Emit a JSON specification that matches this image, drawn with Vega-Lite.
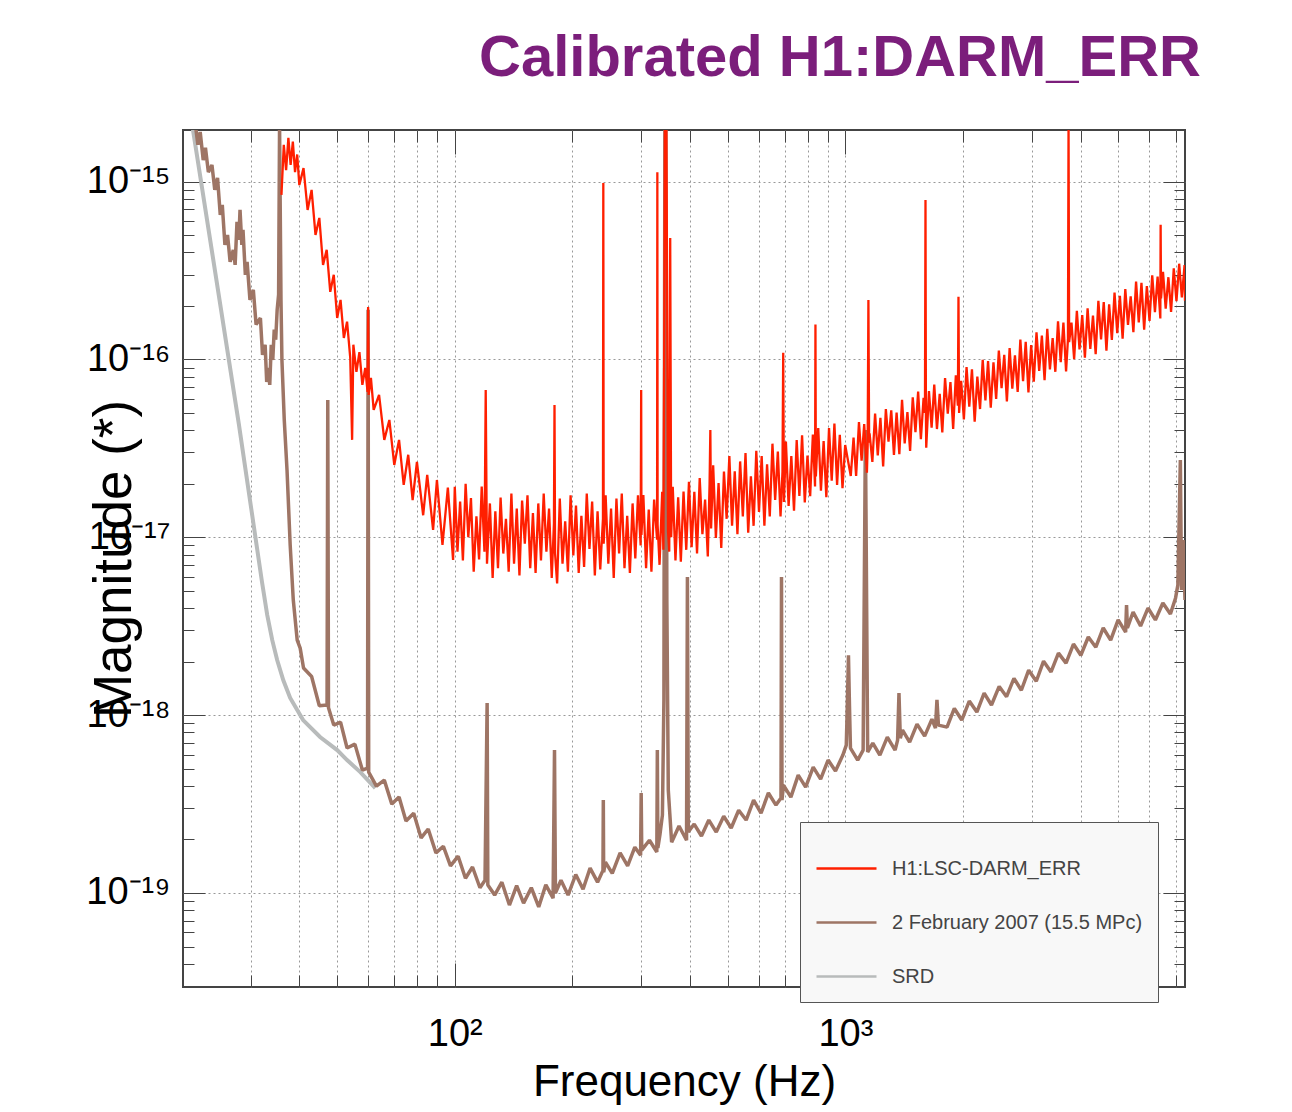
{
"$schema": "https://vega.github.io/schema/vega-lite/v6.json",
"width": 1002, "height": 857,
"autosize": {"type": "none"},
"padding": {"left": 183, "top": 130, "right": 107, "bottom": 125},
"background": "white",
"title": {"text": "Calibrated H1:DARM_ERR", "font": "Liberation Sans", "fontSize": 58, "fontWeight": "bold", "color": "#7b1e7b", "anchor": "middle", "frame": "group", "dx": 156, "dy": 57, "offset": 53, "baseline": "alphabetic"},
"datasets": {
"srd": [{"f":20,"m":4.96e-15},{"f":24,"m":3.82e-16},{"f":28,"m":4.34e-17},{"f":32.1,"m":5.6e-18},{"f":33.1,"m":3.66e-18},{"f":34.1,"m":2.64e-18},{"f":35.1,"m":2.04e-18},{"f":36.4,"m":1.57e-18},{"f":37.9,"m":1.25e-18},{"f":40.9,"m":9.38e-19},{"f":45.2,"m":7.53e-19},{"f":50,"m":6.36e-19},{"f":53,"m":5.59e-19},{"f":57.3,"m":4.78e-19},{"f":62.6,"m":3.89e-19}],
"feb": [{"f":21.6,"m":2.22e-15},{"f":22,"m":1.61e-15},{"f":22.3,"m":1.90e-15},{"f":22.7,"m":1.32e-15},{"f":23,"m":1.55e-15},{"f":23.4,"m":1.13e-15},{"f":23.9,"m":1.24e-15},{"f":24.3,"m":8.98e-16},{"f":24.7,"m":1.05e-15},{"f":25.1,"m":6.50e-16},{"f":25.4,"m":7.39e-16},{"f":25.8,"m":4.41e-16},{"f":26.2,"m":5.01e-16},{"f":26.6,"m":3.54e-16},{"f":27.1,"m":4.13e-16},{"f":27.4,"m":3.40e-16},{"f":27.7,"m":5.93e-16},{"f":28,"m":4.70e-16},{"f":28.2,"m":6.93e-16},{"f":28.5,"m":4.41e-16},{"f":28.7,"m":5.35e-16},{"f":29.1,"m":2.99e-16},{"f":29.4,"m":3.54e-16},{"f":29.9,"m":2.16e-16},{"f":30.5,"m":2.46e-16},{"f":31,"m":1.57e-16},{"f":31.8,"m":1.71e-16},{"f":32.2,"m":1.06e-16},{"f":32.7,"m":1.21e-16},{"f":33,"m":7.47e-17},{"f":33.3,"m":8.96e-17},{"f":33.6,"m":7.19e-17},{"f":33.9,"m":1.21e-16},{"f":34.2,"m":9.93e-17},{"f":34.5,"m":1.47e-16},{"f":34.8,"m":1.29e-16},{"f":35.1,"m":1.90e-16},{"f":35.4,"m":2.31e-16},{"f":35.6,"m":2.08e-15},{"f":35.9,"m":2.16e-16},{"f":36.1,"m":9.93e-17},{"f":36.6,"m":4.57e-17},{"f":37.2,"m":2.39e-17},{"f":37.9,"m":9.05e-18},{"f":38.6,"m":4.44e-18},{"f":39.5,"m":2.64e-18},{"f":40.2,"m":2.38e-18},{"f":41,"m":1.84e-18},{"f":43,"m":1.65e-18},{"f":45,"m":1.13e-18},{"f":47.1,"m":1.14e-18},{"f":47.3,"m":5.92e-17},{"f":47.5,"m":1.10e-18},{"f":49,"m":8.79e-19},{"f":51,"m":9.14e-19},{"f":53,"m":6.53e-19},{"f":55.5,"m":6.87e-19},{"f":58,"m":4.91e-19},{"f":59.8,"m":5.04e-19},{"f":60,"m":1.90e-16},{"f":60.2,"m":4.78e-19},{"f":63,"m":3.99e-19},{"f":66,"m":4.31e-19},{"f":69,"m":3.16e-19},{"f":72,"m":3.46e-19},{"f":75,"m":2.54e-19},{"f":78.5,"m":2.81e-19},{"f":82,"m":2.04e-19},{"f":85.5,"m":2.29e-19},{"f":89.5,"m":1.68e-19},{"f":93.5,"m":1.83e-19},{"f":97.5,"m":1.42e-19},{"f":102,"m":1.61e-19},{"f":106.5,"m":1.21e-19},{"f":111,"m":1.40e-19},{"f":116,"m":1.07e-19},{"f":119.5,"m":1.18e-19},{"f":121,"m":1.17e-18},{"f":121.5,"m":1.11e-19},{"f":126.5,"m":9.73e-20},{"f":132,"m":1.15e-19},{"f":138,"m":8.55e-20},{"f":144,"m":1.10e-19},{"f":150,"m":8.77e-20},{"f":157,"m":1.07e-19},{"f":164,"m":8.35e-20},{"f":171,"m":1.11e-19},{"f":178.5,"m":9.35e-20},{"f":180,"m":6.36e-19},{"f":181,"m":1.00e-19},{"f":187,"m":1.18e-19},{"f":195,"m":9.73e-20},{"f":204,"m":1.27e-19},{"f":213,"m":1.05e-19},{"f":222,"m":1.38e-19},{"f":232,"m":1.15e-19},{"f":239.5,"m":1.34e-19},{"f":240,"m":3.33e-19},{"f":240.5,"m":1.31e-19},{"f":243,"m":1.49e-19},{"f":253,"m":1.29e-19},{"f":265,"m":1.68e-19},{"f":277,"m":1.42e-19},{"f":289,"m":1.81e-19},{"f":299,"m":1.63e-19},{"f":300,"m":3.65e-19},{"f":301,"m":1.74e-19},{"f":315,"m":1.98e-19},{"f":329,"m":1.70e-19},{"f":330,"m":6.36e-19},{"f":331,"m":1.79e-19},{"f":335,"m":2.12e-19},{"f":340,"m":2.74e-19},{"f":343,"m":1.22e-18},{"f":345,"m":2.08e-15},{"f":347,"m":2.08e-15},{"f":349,"m":4.44e-18},{"f":352,"m":3.79e-19},{"f":359,"m":1.93e-19},{"f":375,"m":2.38e-19},{"f":392,"m":1.98e-19},{"f":394,"m":5.98e-18},{"f":396,"m":2.20e-19},{"f":410,"m":2.44e-19},{"f":428,"m":2.09e-19},{"f":447,"m":2.57e-19},{"f":467,"m":2.20e-19},{"f":488,"m":2.70e-19},{"f":510,"m":2.32e-19},{"f":533,"m":2.92e-19},{"f":557,"m":2.57e-19},{"f":582,"m":3.33e-19},{"f":608,"m":2.81e-19},{"f":635,"m":3.65e-19},{"f":664,"m":3.12e-19},{"f":684,"m":3.42e-19},{"f":686,"m":5.98e-18},{"f":688,"m":3.33e-19},{"f":694,"m":4.04e-19},{"f":725,"m":3.46e-19},{"f":757,"m":4.60e-19},{"f":791,"m":3.94e-19},{"f":827,"m":5.10e-19},{"f":864,"m":4.37e-19},{"f":903,"m":5.59e-19},{"f":943,"m":4.85e-19},{"f":985,"m":5.96e-19},{"f":1005,"m":6.78e-19},{"f":1012,"m":1.22e-18},{"f":1018,"m":2.17e-18},{"f":1024,"m":1.14e-18},{"f":1030,"m":6.53e-19},{"f":1075,"m":5.59e-19},{"f":1110,"m":6.36e-19},{"f":1125,"m":4.01e-17},{"f":1140,"m":6.20e-19},{"f":1175,"m":6.96e-19},{"f":1225,"m":5.96e-19},{"f":1280,"m":7.52e-19},{"f":1340,"m":6.36e-19},{"f":1360,"m":7.24e-19},{"f":1371,"m":1.33e-18},{"f":1382,"m":7.42e-19},{"f":1400,"m":8.24e-19},{"f":1460,"m":7.05e-19},{"f":1525,"m":8.90e-19},{"f":1595,"m":7.62e-19},{"f":1665,"m":9.50e-19},{"f":1700,"m":8.45e-19},{"f":1715,"m":1.22e-18},{"f":1730,"m":8.79e-19},{"f":1820,"m":8.56e-19},{"f":1900,"m":1.09e-18},{"f":1985,"m":9.38e-19},{"f":2075,"m":1.20e-18},{"f":2170,"m":1.04e-18},{"f":2265,"m":1.33e-18},{"f":2365,"m":1.14e-18},{"f":2475,"m":1.45e-18},{"f":2585,"m":1.27e-18},{"f":2700,"m":1.61e-18},{"f":2820,"m":1.38e-18},{"f":2945,"m":1.79e-18},{"f":3080,"m":1.55e-18},{"f":3215,"m":2.01e-18},{"f":3360,"m":1.75e-18},{"f":3510,"m":2.23e-18},{"f":3670,"m":1.96e-18},{"f":3835,"m":2.51e-18},{"f":4005,"m":2.17e-18},{"f":4185,"m":2.75e-18},{"f":4375,"m":2.41e-18},{"f":4570,"m":3.09e-18},{"f":4775,"m":2.64e-18},{"f":4990,"m":3.43e-18},{"f":5215,"m":2.93e-18},{"f":5243,"m":4.16e-18},{"f":5270,"m":3.09e-18},{"f":5450,"m":3.80e-18},{"f":5695,"m":3.17e-18},{"f":5950,"m":4.00e-18},{"f":6215,"m":3.43e-18},{"f":6495,"m":4.27e-18},{"f":6790,"m":3.70e-18},{"f":7000,"m":4.56e-18},{"f":7095,"m":5.39e-18},{"f":7200,"m":2.72e-17},{"f":7250,"m":5.05e-18},{"f":7320,"m":9.66e-18},{"f":7400,"m":4.44e-18}],
"darm": [{"f":36,"m":8.42e-16},{"f":36.5,"m":1.61e-15},{"f":37,"m":1.16e-15},{"f":37.5,"m":1.76e-15},{"f":38,"m":1.24e-15},{"f":38.5,"m":1.68e-15},{"f":39,"m":1.13e-15},{"f":39.5,"m":1.42e-15},{"f":40,"m":9.56e-16},{"f":41,"m":1.19e-15},{"f":42,"m":6.93e-16},{"f":43,"m":8.98e-16},{"f":44,"m":5.01e-16},{"f":45,"m":6.25e-16},{"f":46,"m":3.40e-16},{"f":47,"m":4.13e-16},{"f":48,"m":2.40e-16},{"f":49,"m":2.99e-16},{"f":50,"m":1.71e-16},{"f":51,"m":2.16e-16},{"f":52,"m":1.32e-16},{"f":53,"m":1.63e-16},{"f":54,"m":1.02e-16},{"f":54.6,"m":3.53e-17},{"f":55,"m":1.21e-16},{"f":56,"m":8.51e-17},{"f":57,"m":1.10e-16},{"f":58,"m":7.19e-17},{"f":59,"m":8.96e-17},{"f":59.8,"m":6.57e-17},{"f":60,"m":1.97e-16},{"f":60.2,"m":6.32e-17},{"f":61,"m":7.87e-17},{"f":62,"m":5.20e-17},{"f":64,"m":6.32e-17},{"f":66,"m":3.53e-17},{"f":68,"m":4.57e-17},{"f":70,"m":2.55e-17},{"f":72,"m":3.53e-17},{"f":74,"m":1.97e-17},{"f":76,"m":2.91e-17},{"f":78,"m":1.62e-17},{"f":80,"m":2.65e-17},{"f":83,"m":1.33e-17},{"f":85,"m":2.24e-17},{"f":88,"m":1.10e-17},{"f":90,"m":2.10e-17},{"f":93,"m":9.05e-18},{"f":96,"m":1.90e-17},{"f":99,"m":7.45e-18},
{"f":100,"m":1.92e-17},{"f":101.6,"m":8.3e-18},{"f":103.2,"m":1.59e-17},{"f":104.9,"m":7.4e-18},{"f":106.6,"m":2.0e-17},{"f":108.3,"m":1.0e-17},{"f":110,"m":1.66e-17},{"f":111.8,"m":6.4e-18},{"f":113.6,"m":1.31e-17},{"f":115.4,"m":7.5e-18},{"f":117.2,"m":1.93e-17},{"f":119.1,"m":8.3e-18},{"f":120,"m":6.74e-17},{"f":120.9,"m":7.1e-18},{"f":123,"m":1.55e-17},{"f":125,"m":5.9e-18},{"f":127,"m":1.40e-17},{"f":129,"m":6.7e-18},{"f":131,"m":1.67e-17},{"f":133.1,"m":8.1e-18},{"f":135.2,"m":1.27e-17},{"f":137.4,"m":6.4e-18},{"f":139.6,"m":1.76e-17},{"f":141.8,"m":7.1e-18},{"f":144.1,"m":1.45e-17},{"f":146.4,"m":6.1e-18},{"f":148.7,"m":1.61e-17},{"f":151.1,"m":9.2e-18},{"f":153.5,"m":1.72e-17},{"f":156,"m":6.7e-18},{"f":158.5,"m":1.37e-17},{"f":161,"m":6.3e-18},{"f":163.6,"m":1.55e-17},{"f":166.2,"m":7.4e-18},{"f":168.9,"m":1.76e-17},{"f":171.6,"m":8.3e-18},{"f":174.3,"m":1.45e-17},{"f":177.1,"m":5.9e-18},{"f":179.4,"m":1.20e-17},{"f":180,"m":5.55e-17},{"f":180.6,"m":8.1e-18},{"f":182.8,"m":5.5e-18},{"f":185.7,"m":1.65e-17},{"f":188.7,"m":7.1e-18},{"f":191.7,"m":1.23e-17},{"f":194.8,"m":6.4e-18},{"f":197.9,"m":1.72e-17},{"f":201.1,"m":7.9e-18},{"f":204.3,"m":1.51e-17},{"f":207.6,"m":6.3e-18},{"f":210.9,"m":1.32e-17},{"f":214.3,"m":6.8e-18},{"f":217.7,"m":1.76e-17},{"f":221.2,"m":8.6e-18},{"f":224.7,"m":1.59e-17},{"f":228.3,"m":6.1e-18},{"f":232,"m":1.40e-17},{"f":235.7,"m":6.6e-18},{"f":239.5,"m":1.27e-17},{"f":240,"m":9.81e-16},{"f":240.5,"m":9.2e-18},{"f":243.3,"m":1.72e-17},{"f":247.2,"m":7.1e-18},{"f":251.2,"m":1.45e-17},{"f":255.2,"m":5.9e-18},{"f":259.3,"m":1.65e-17},{"f":263.4,"m":8.1e-18},{"f":267.6,"m":1.76e-17},{"f":271.9,"m":6.7e-18},{"f":276.3,"m":1.32e-17},{"f":280.7,"m":6.3e-18},{"f":285.2,"m":1.55e-17},{"f":289.8,"m":7.6e-18},{"f":294.4,"m":1.72e-17},{"f":299.1,"m":9.0e-18},{"f":300,"m":6.74e-17},{"f":300.5,"m":1.03e-17},{"f":303.9,"m":1.73e-17},{"f":308.8,"m":6.7e-18},{"f":313.7,"m":1.43e-17},{"f":318.7,"m":6.4e-18},{"f":323.8,"m":1.63e-17},{"f":329.5,"m":9.7e-18},{"f":330,"m":1.13e-15},{"f":330.5,"m":1.18e-17},{"f":334.3,"m":7.0e-18},{"f":339.6,"m":1.80e-17},{"f":342,"m":8.5e-18},{"f":344,"m":2.16e-16},{"f":345,"m":2.08e-15},{"f":346.5,"m":1.72e-15},{"f":348,"m":2.08e-15},{"f":349.5,"m":2.80e-16},{"f":351.5,"m":1.07e-17},{"f":354,"m":8.3e-18},{"f":356,"m":4.82e-16},{"f":358,"m":1.0e-17},{"f":361.4,"m":1.92e-17},{"f":367.2,"m":7.4e-18},{"f":373.1,"m":1.68e-17},{"f":379,"m":7.3e-18},{"f":385.1,"m":1.81e-17},{"f":391.3,"m":8.5e-18},{"f":397.6,"m":2.05e-17},{"f":403.9,"m":8.8e-18},{"f":410.4,"m":1.80e-17},{"f":417,"m":8.1e-18},{"f":423.6,"m":2.15e-17},{"f":430.4,"m":1.04e-17},{"f":437.3,"m":1.63e-17},{"f":444.3,"m":7.8e-18},{"f":449,"m":2.0e-17},{"f":451,"m":4.01e-17},{"f":453,"m":1.12e-17},{"f":458.6,"m":2.54e-17},{"f":466,"m":9.9e-18},{"f":473.4,"m":2.02e-17},{"f":481,"m":8.7e-18},{"f":488.7,"m":2.34e-17},{"f":496.5,"m":1.27e-17},{"f":504.5,"m":2.86e-17},{"f":512.6,"m":1.16e-17},{"f":520.8,"m":2.35e-17},{"f":529.1,"m":1.04e-17},{"f":537.6,"m":2.67e-17},{"f":546.2,"m":1.31e-17},{"f":554.9,"m":2.98e-17},{"f":563.8,"m":1.06e-17},{"f":572.8,"m":2.20e-17},{"f":582,"m":1.16e-17},{"f":591.3,"m":3.06e-17},{"f":600.8,"m":1.39e-17},{"f":610.4,"m":2.86e-17},{"f":620.2,"m":1.16e-17},{"f":630.1,"m":2.57e-17},{"f":640.2,"m":1.31e-17},{"f":650.4,"m":3.36e-17},{"f":660.8,"m":1.62e-17},{"f":671.4,"m":3.03e-17},{"f":682.1,"m":1.31e-17},{"f":690,"m":2.34e-17},{"f":693,"m":1.09e-16},{"f":696,"m":1.58e-17},{"f":704.1,"m":3.45e-17},{"f":715.4,"m":1.50e-17},{"f":726.9,"m":2.86e-17},{"f":738.5,"m":1.41e-17},{"f":750.3,"m":3.52e-17},{"f":762.3,"m":1.71e-17},{"f":774.5,"m":3.74e-17},{"f":786.9,"m":1.57e-17},{"f":799.5,"m":2.88e-17},{"f":812.3,"m":1.70e-17},{"f":825.3,"m":3.78e-17},{"f":836,"m":1.93e-17},{"f":838,"m":1.57e-16},{"f":840,"m":2.2e-17},{"f":851.9,"m":4.11e-17},{"f":865.5,"m":1.83e-17},{"f":879.4,"m":3.48e-17},{"f":893.5,"m":1.68e-17},{"f":907.8,"m":4.11e-17},{"f":922.3,"m":2.08e-17},{"f":937.1,"m":4.36e-17},{"f":952,"m":1.97e-17},{"f":967.3,"m":3.77e-17},{"f":982.8,"m":1.89e-17},{"f":998.5,"m":3.3e-17},
{"f":1032,"m":2.21e-17},{"f":1049,"m":3.63e-17},{"f":1065,"m":2.21e-17},{"f":1083,"m":4.45e-17},{"f":1100,"m":2.70e-17},{"f":1117,"m":4.33e-17},{"f":1135,"m":2.31e-17},{"f":1140,"m":3.3e-17},{"f":1145,"m":2.16e-16},{"f":1150,"m":3.4e-17},{"f":1153,"m":3.84e-17},{"f":1172,"m":2.65e-17},{"f":1191,"m":4.96e-17},{"f":1210,"m":2.89e-17},{"f":1229,"m":4.70e-17},{"f":1249,"m":2.50e-17},{"f":1269,"m":5.26e-17},{"f":1289,"m":3.45e-17},{"f":1310,"m":5.17e-17},{"f":1331,"m":2.90e-17},{"f":1352,"m":5.03e-17},{"f":1374,"m":2.93e-17},{"f":1396,"m":5.93e-17},{"f":1418,"m":3.37e-17},{"f":1441,"m":5.05e-17},{"f":1464,"m":3.06e-17},{"f":1487,"m":6.12e-17},{"f":1511,"m":3.90e-17},{"f":1535,"m":6.59e-17},{"f":1560,"m":3.56e-17},{"f":1585,"m":6.08e-17},{"f":1598,"m":5.0e-17},{"f":1603,"m":7.88e-16},{"f":1607,"m":4.9e-17},{"f":1610,"m":3.19e-17},{"f":1636,"m":6.64e-17},{"f":1662,"m":4.13e-17},{"f":1688,"m":7.23e-17},{"f":1715,"m":4.06e-17},{"f":1743,"m":6.41e-17},{"f":1770,"m":3.89e-17},{"f":1799,"m":7.86e-17},{"f":1828,"m":4.96e-17},{"f":1857,"m":7.45e-17},{"f":1887,"m":4.07e-17},{"f":1917,"m":8.13e-17},{"f":1940,"m":5.5e-17},{"f":1947,"m":2.25e-16},{"f":1954,"m":5.0e-17},{"f":1978,"m":7.59e-17},{"f":2010,"m":4.60e-17},{"f":2042,"m":9.07e-17},{"f":2075,"m":5.42e-17},{"f":2108,"m":8.80e-17},{"f":2142,"m":4.46e-17},{"f":2176,"m":8.01e-17},{"f":2211,"m":5.26e-17},{"f":2246,"m":9.95e-17},{"f":2282,"m":5.88e-17},{"f":2318,"m":9.80e-17},{"f":2355,"m":5.35e-17},{"f":2393,"m":9.63e-17},{"f":2431,"m":5.99e-17},{"f":2470,"m":1.121e-16},{"f":2510,"m":6.89e-17},{"f":2550,"m":1.062e-16},{"f":2590,"m":5.80e-17},{"f":2632,"m":1.158e-16},{"f":2674,"m":6.85e-17},{"f":2716,"m":1.054e-16},{"f":2760,"m":6.56e-17},{"f":2804,"m":1.292e-16},{"f":2849,"m":7.54e-17},{"f":2894,"m":1.256e-16},{"f":2941,"m":6.52e-17},{"f":2988,"m":1.204e-16},{"f":3035,"m":7.49e-17},{"f":3084,"m":1.42e-16},{"f":3133,"m":8.61e-17},{"f":3183,"m":1.362e-16},{"f":3234,"m":7.64e-17},{"f":3286,"m":1.486e-16},{"f":3338,"m":8.78e-17},{"f":3392,"m":1.317e-16},{"f":3446,"m":8.52e-17},{"f":3501,"m":1.637e-16},{"f":3557,"m":9.66e-17},{"f":3614,"m":1.61e-16},{"f":3671,"m":8.57e-17},{"f":3712,"m":1.30e-16},{"f":3725,"m":2.08e-15},{"f":3738,"m":1.25e-16},{"f":3790,"m":1.611e-16},{"f":3850,"m":1.003e-16},{"f":3912,"m":1.875e-16},{"f":3974,"m":1.137e-16},{"f":4038,"m":1.776e-16},{"f":4102,"m":1.022e-16},{"f":4168,"m":1.938e-16},{"f":4235,"m":1.145e-16},{"f":4302,"m":1.764e-16},{"f":4371,"m":1.07e-16},{"f":4441,"m":2.135e-16},{"f":4512,"m":1.294e-16},{"f":4584,"m":2.101e-16},{"f":4657,"m":1.119e-16},{"f":4732,"m":2.04e-16},{"f":4808,"m":1.286e-16},{"f":4885,"m":2.375e-16},{"f":4963,"m":1.403e-16},{"f":5042,"m":2.277e-16},{"f":5123,"m":1.31e-16},{"f":5205,"m":2.484e-16},{"f":5288,"m":1.565e-16},{"f":5373,"m":2.261e-16},{"f":5459,"m":1.424e-16},{"f":5546,"m":2.738e-16},{"f":5635,"m":1.617e-16},{"f":5725,"m":2.693e-16},{"f":5817,"m":1.472e-16},{"f":5910,"m":2.581e-16},{"f":6004,"m":1.648e-16},{"f":6100,"m":2.967e-16},{"f":6198,"m":1.846e-16},{"f":6297,"m":2.92e-16},{"f":6398,"m":1.701e-16},{"f":6410,"m":5.71e-16},{"f":6425,"m":2.2e-16},{"f":6500,"m":3.104e-16},{"f":6604,"m":1.931e-16},{"f":6710,"m":2.899e-16},{"f":6817,"m":1.852e-16},{"f":6926,"m":3.248e-16},{"f":7037,"m":2.128e-16},{"f":7150,"m":3.453e-16},{"f":7264,"m":2.232e-16},{"f":7380,"m":3.396e-16},{"f":7400,"m":2.14e-16}]
},
"layer": [
{
"data": {"name": "srd"},
"mark": {"type": "line", "opacity": 0, "clip": true},
"encoding": {
"x": {"field": "f", "type": "quantitative", "scale": {"type": "log", "domain": [20.15, 7400], "nice": false}, "axis": {"orient": "top", "values": [100, 1000], "labels": false, "grid": false, "domain": false, "tickSize": -24, "tickColor": "#444", "title": null}},
"y": {"field": "m", "type": "quantitative", "scale": {"type": "log", "domain": [2.96e-20, 1.95e-15], "nice": false}, "axis": {"orient": "right", "values": [1e-19, 1e-18, 1e-17, 1e-16, 1e-15], "labels": false, "grid": false, "domain": false, "tickSize": -22, "tickColor": "#444", "title": null}}
}
},
{
"data": {"name": "srd"},
"mark": {"type": "line", "strokeWidth": 4, "clip": true},
"encoding": {
"x": {"field": "f", "type": "quantitative", "scale": {"type": "log", "domain": [20.15, 7400], "nice": false}, "axis": {"orient": "bottom", "values": [100, 1000], "labelExpr": "datum.value < 500 ? '10²' : '10³'", "labelFont": "Liberation Sans", "labelFontSize": 38, "labelColor": "#000", "labelPadding": 52, "labelFlush": false, "labelOverlap": false, "grid": true, "gridDash": [2, 3], "gridColor": "#999", "domain": false, "tickSize": -24, "tickColor": "#444", "title": "Frequency (Hz)", "titleFont": "Liberation Sans", "titleFontSize": 44, "titleFontWeight": "normal", "titleColor": "#000", "titleBaseline": "alphabetic", "titleY": 108}},
"y": {"field": "m", "type": "quantitative", "scale": {"type": "log", "domain": [2.96e-20, 1.95e-15], "nice": false}, "axis": {"orient": "left", "values": [1e-19, 1e-18, 1e-17, 1e-16, 1e-15], "labelExpr": "round(log(datum.value)/LN10) == -15 ? '10⁻¹⁵' : round(log(datum.value)/LN10) == -16 ? '10⁻¹⁶' : round(log(datum.value)/LN10) == -17 ? '10⁻¹⁷' : round(log(datum.value)/LN10) == -18 ? '10⁻¹⁸' : '10⁻¹⁹'", "labelFont": "Liberation Sans", "labelFontSize": 38, "labelColor": "#000", "labelPadding": 35, "labelFlush": false, "labelOverlap": false, "grid": true, "gridDash": [2, 3], "gridColor": "#999", "domain": false, "tickSize": -22, "tickColor": "#444", "title": "Magnitude (*)", "titleFont": "Liberation Sans", "titleFontSize": 53, "titleFontWeight": "normal", "titleColor": "#000", "titleBaseline": "alphabetic", "titleX": -53}},
"color": {"datum": "SRD", "type": "nominal", "scale": {"domain": ["H1:LSC-DARM_ERR", "2 February 2007 (15.5 MPc)", "SRD"], "range": ["#ff1f00", "#9e7565", "#b8bbbb"]}, "legend": {"title": null, "orient": "none", "legendX": 617, "legendY": 692, "symbolType": "stroke", "symbolSize": 3600, "symbolStrokeWidth": 2.5, "labelFont": "Liberation Sans", "labelFontSize": 20, "labelColor": "#444", "labelOffset": 14, "labelLimit": 400, "fillColor": "#f8f8f8", "strokeColor": "#555", "padding": 15, "rowPadding": 12}}
}
},
{
"data": {"name": "feb"},
"mark": {"type": "line", "strokeWidth": 3.5, "clip": true, "strokeJoin": "bevel"},
"encoding": {
"x": {"field": "f", "type": "quantitative", "scale": {"type": "log", "domain": [20.15, 7400], "nice": false}, "axis": {"orient": "bottom", "values": [30, 40, 50, 60, 70, 80, 90, 200, 300, 400, 500, 600, 700, 800, 900, 2000, 3000, 4000, 5000, 6000, 7000], "labels": false, "grid": true, "gridDash": [2, 3], "gridColor": "#999", "domain": false, "tickSize": -12, "tickColor": "#444", "title": null}},
"y": {"field": "m", "type": "quantitative", "scale": {"type": "log", "domain": [2.96e-20, 1.95e-15], "nice": false}, "axis": {"orient": "left", "values": [3e-20, 4e-20, 5e-20, 6e-20, 7e-20, 8e-20, 9e-20, 2e-19, 3e-19, 4e-19, 5e-19, 6e-19, 7e-19, 8e-19, 9e-19, 2e-18, 3e-18, 4e-18, 5e-18, 6e-18, 7e-18, 8e-18, 9e-18, 2e-17, 3e-17, 4e-17, 5e-17, 6e-17, 7e-17, 8e-17, 9e-17, 2e-16, 3e-16, 4e-16, 5e-16, 6e-16, 7e-16, 8e-16, 9e-16], "labels": false, "grid": false, "domain": false, "tickSize": -11, "tickColor": "#444", "title": null}},
"color": {"datum": "2 February 2007 (15.5 MPc)", "type": "nominal"}
}
},
{
"data": {"name": "darm"},
"mark": {"type": "line", "strokeWidth": 2.3, "clip": true, "strokeJoin": "bevel"},
"encoding": {
"x": {"field": "f", "type": "quantitative", "scale": {"type": "log", "domain": [20.15, 7400], "nice": false}, "axis": {"orient": "top", "values": [30, 40, 50, 60, 70, 80, 90, 200, 300, 400, 500, 600, 700, 800, 900, 2000, 3000, 4000, 5000, 6000, 7000], "labels": false, "grid": false, "domain": false, "tickSize": -12, "tickColor": "#444", "title": null}},
"y": {"field": "m", "type": "quantitative", "scale": {"type": "log", "domain": [2.96e-20, 1.95e-15], "nice": false}, "axis": {"orient": "right", "values": [3e-20, 4e-20, 5e-20, 6e-20, 7e-20, 8e-20, 9e-20, 2e-19, 3e-19, 4e-19, 5e-19, 6e-19, 7e-19, 8e-19, 9e-19, 2e-18, 3e-18, 4e-18, 5e-18, 6e-18, 7e-18, 8e-18, 9e-18, 2e-17, 3e-17, 4e-17, 5e-17, 6e-17, 7e-17, 8e-17, 9e-17, 2e-16, 3e-16, 4e-16, 5e-16, 6e-16, 7e-16, 8e-16, 9e-16], "labels": false, "grid": false, "domain": false, "tickSize": -11, "tickColor": "#444", "title": null}},
"color": {"datum": "H1:LSC-DARM_ERR", "type": "nominal"}
}
}
],
"resolve": {"axis": {"x": "independent", "y": "independent"}},
"config": {"view": {"stroke": "#444", "strokeWidth": 2}}
}
